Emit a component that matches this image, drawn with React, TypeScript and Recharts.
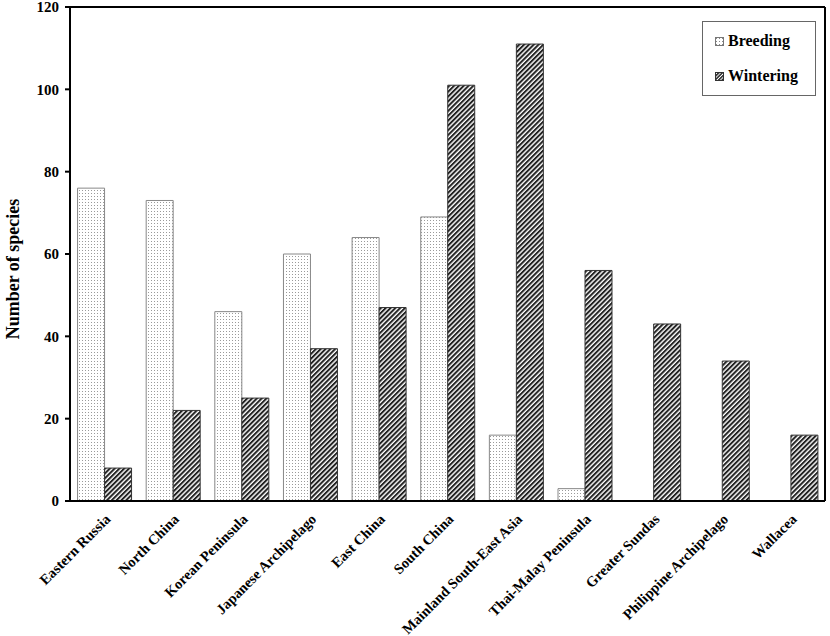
import React from 'react';
import { BarChart, Bar, XAxis, YAxis } from 'recharts';

const regions = [
  'Eastern Russia',
  'North China',
  'Korean Peninsula',
  'Japanese Archipelago',
  'East China',
  'South China',
  'Mainland South-East Asia',
  'Thai-Malay Peninsula',
  'Greater Sundas',
  'Philippine Archipelago',
  'Wallacea',
];
const breeding = [76, 73, 46, 60, 64, 69, 16, 3, 0, 0, 0];
const wintering = [8, 22, 25, 37, 47, 101, 111, 56, 43, 34, 16];
const yTicks = [0, 20, 40, 60, 80, 100, 120];

const data = regions.map((name, i) => ({ name, breeding: breeding[i], wintering: wintering[i] }));

const FONT = '"Liberation Serif", "Times New Roman", serif';

const XTick = (props: any) => {
  const { x, y, payload } = props;
  const tx = x + 7;
  const ty = y + 11;
  return (
    <text
      x={tx}
      y={ty}
      transform={`rotate(-45, ${tx}, ${ty})`}
      textAnchor="end"
      fontFamily={FONT}
      fontWeight="bold"
      fontSize={14.5}
      fill="#000"
    >
      {payload.value}
    </text>
  );
};

const YLabel = () => (
  <text
    x={19}
    y={269}
    transform="rotate(-90, 19, 269)"
    textAnchor="middle"
    fontFamily={FONT}
    fontWeight="bold"
    fontSize={18}
    fill="#000"
  >
    Number of species
  </text>
);

const Swatch = ({ kind }: { kind: 'dots' | 'hatch' }) => (
  <svg width={9} height={9} style={{ marginRight: 4 }}>
    <defs>
      <pattern id={`lg-${kind}`} width={kind === 'dots' ? 3 : 2.5} height={kind === 'dots' ? 3 : 2.5} patternUnits="userSpaceOnUse" patternTransform={kind === 'hatch' ? 'rotate(45)' : undefined}>
        <rect width={3} height={3} fill="#fff" />
        {kind === 'dots' ? <rect x={1} y={1} width={1} height={1} fill="#888" /> : <rect width={1.5} height={3} fill="#222" />}
      </pattern>
    </defs>
    <rect x={0.5} y={0.5} width={8} height={8} fill={`url(#lg-${kind})`} stroke={kind === 'dots' ? '#777' : '#333'} />
  </svg>
);

const LegendBox = () => (
  <div
    style={{
      position: 'absolute',
      left: 702,
      top: 21,
      border: '1px solid #666',
      width: 114,
      height: 75,
      background: '#fff',
      fontFamily: FONT,
      fontWeight: 'bold',
      fontSize: 16,
      boxSizing: 'border-box',
      paddingLeft: 12,
    }}
  >
    <div style={{ display: 'flex', alignItems: 'center', marginTop: 9, height: 20 }}>
      <Swatch kind="dots" />
      Breeding
    </div>
    <div style={{ display: 'flex', alignItems: 'center', marginTop: 15, height: 20 }}>
      <Swatch kind="hatch" />
      Wintering
    </div>
  </div>
);

export default function App() {
  return (
    <div style={{ position: 'absolute', left: 0, top: 0, width: 830, height: 636, background: '#fff' }}>
      <BarChart
        width={830}
        height={636}
        data={data}
        margin={{ top: 6, right: 4, left: 0, bottom: 0 }}
        barCategoryGap="11%"
        barGap={0}
      >
        <defs>
          <pattern id="dots" width={3} height={3} patternUnits="userSpaceOnUse">
            <rect width={3} height={3} fill="#fff" />
            <rect x={1} y={1} width={1} height={1} fill="#9a9a9a" />
          </pattern>
          <pattern
            id="hatch"
            width={3.4}
            height={3.4}
            patternUnits="userSpaceOnUse"
            patternTransform="rotate(45)"
          >
            <rect width={3.4} height={3.4} fill="#fff" />
            <rect width={2} height={3.4} fill="#222" />
          </pattern>
        </defs>
        <XAxis
          dataKey="name"
          interval={0}
          height={135}
          tickLine={false}
          axisLine={{ stroke: '#000', strokeWidth: 2 }}
          tick={<XTick />}
        />
        <XAxis
          xAxisId="top"
          orientation="top"
          dataKey="name"
          height={1}
          tick={false}
          tickLine={false}
          axisLine={{ stroke: '#000', strokeWidth: 2 }}
        />
        <YAxis
          width={70}
          domain={[0, 120]}
          ticks={yTicks}
          interval={0}
          tickSize={5}
          tickMargin={6}
          tickLine={{ stroke: '#000', strokeWidth: 2 }}
          axisLine={{ stroke: '#000', strokeWidth: 2 }}
          tick={{ fontFamily: FONT, fontWeight: 'bold', fontSize: 15, fill: '#000' }}
          label={<YLabel />}
        />
        <YAxis
          yAxisId="right"
          orientation="right"
          width={1}
          domain={[0, 120]}
          tick={false}
          tickLine={false}
          axisLine={{ stroke: '#000', strokeWidth: 2 }}
        />
        <Bar dataKey="breeding" name="Breeding" fill="url(#dots)" stroke="#888" strokeWidth={1} isAnimationActive={false} />
        <Bar dataKey="wintering" name="Wintering" fill="url(#hatch)" stroke="#333" strokeWidth={1} isAnimationActive={false} />
      </BarChart>
      <LegendBox />
    </div>
  );
}
